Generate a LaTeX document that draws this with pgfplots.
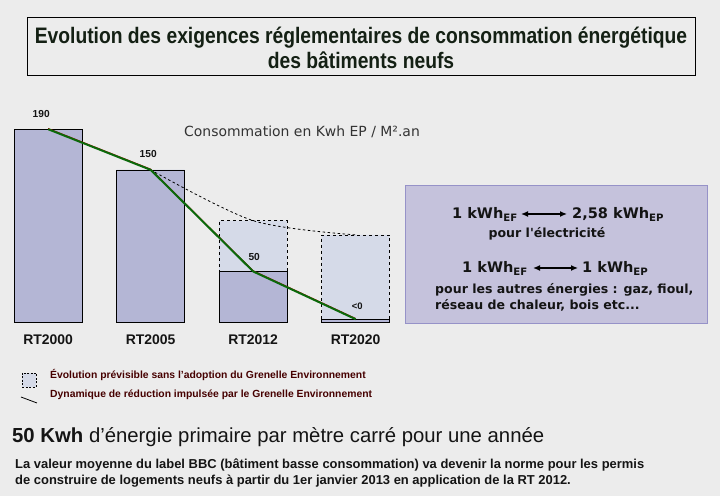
\documentclass[border=0pt]{standalone}
\usepackage{pgfplots}
\pgfplotsset{compat=1.18}
\usetikzlibrary{arrows.meta}
\usepackage{fontspec}
\setmainfont{Liberation Sans}
\newfontfamily\narrow[FakeStretch=0.86]{Liberation Sans}
\newfontfamily\dejavu{DejaVu Sans}
\definecolor{bg}{RGB}{236,236,236}
\definecolor{barfill}{RGB}{180,182,213}
\definecolor{lightbar}{RGB}{213,218,232}
\definecolor{boxfill}{RGB}{197,194,220}
\definecolor{boxborder}{RGB}{150,146,200}
\definecolor{grline}{RGB}{10,105,10}
\definecolor{legtext}{RGB}{70,0,0}
\definecolor{txt}{RGB}{20,20,20}
\definecolor{titletxt}{RGB}{20,32,20}
\begin{document}
\begin{tikzpicture}[x=1bp,y=1bp]
\fill[bg] (0,0) rectangle (720,496);
% title
\draw[black, line width=1bp] (27,478) rectangle (695,420);
\node[font=\narrow\bfseries\fontsize{22.5}{25}\selectfont, align=center, text=titletxt] at (361,448)
  {Evolution des exigences réglementaires de consommation énergétique\\des bâtiments neufs};
% chart
\begin{axis}[at={(7,171)}, anchor=south west, scale only axis,
  width=389.5bp, height=203.2bp,
  xmin=-0.4, xmax=3.4, ymin=0, ymax=200, clip=false,
  axis line style={draw=none}, ytick=\empty,
  xtick={0,1,2,3}, xticklabels={RT2000,RT2005,RT2012,RT2020},
  major tick length=0pt,
  xticklabel style={font=\bfseries\fontsize{14}{14}\selectfont, text=txt, yshift=-9bp}]
\addplot[ybar, bar width=68bp, bar shift=0pt, draw=black, dashed, fill=lightbar]
  coordinates {(2,100) (3,86)};
\addplot[ybar, bar width=68bp, bar shift=0pt, draw=black, fill=barfill]
  coordinates {(0,190) (1,150) (2,50) (3,3)};
\addplot[black, line width=0.8bp, smooth, dash pattern=on 2.5bp off 2.5bp]
  coordinates {(1,150) (2,100) (3,86)};
\addplot[red!70!black, line width=0.8bp, yshift=0.8bp]
  coordinates {(0,190) (1,150) (2,50) (3,3)};
\addplot[grline, line width=2bp]
  coordinates {(0,190) (1,150) (2,50) (3,3)};
\node[font=\bfseries\fontsize{10.2}{11}\selectfont, text=txt] at (axis cs:-0.068,204.5) {190};
\node[font=\bfseries\fontsize{10.2}{11}\selectfont, text=txt] at (axis cs:0.976,165.4) {150};
\node[font=\bfseries\fontsize{10.2}{11}\selectfont, text=txt] at (axis cs:2.01,64) {50};
\node[font=\bfseries\fontsize{9.5}{11}\selectfont, text=txt] at (axis cs:3.015,15.7) {<0};
\end{axis}
\node[font=\dejavu\fontsize{14}{14}\selectfont, text=black!80] at (302,364) {Consommation en Kwh EP / M².an};
% info box
\draw[draw=boxborder, line width=1bp, fill=boxfill] (405,310) rectangle (707,172);
\begin{scope}[every node/.style={font=\dejavu\bfseries\fontsize{14.6}{15}\selectfont, text=txt, inner sep=0pt}]
\node[anchor=base east] at (518,277) {1 kWh\textsubscript{EF}};
\node[anchor=base west] at (572,277) {2,58 kWh\textsubscript{EP}};
\node[anchor=base east] at (528,223) {1 kWh\textsubscript{EF}};
\node[anchor=base west] at (582,223) {1 kWh\textsubscript{EP}};
\end{scope}
\draw[{Latex[length=7bp,width=6bp]}-{Latex[length=7bp,width=6bp]}, line width=1.3bp] (521,282) -- (567,282);
\draw[{Latex[length=7bp,width=6bp]}-{Latex[length=7bp,width=6bp]}, line width=1.3bp] (533,228) -- (578,228);
\begin{scope}[every node/.style={font=\dejavu\bfseries\fontsize{12.6}{13}\selectfont, text=txt, inner sep=0pt}]
\node[anchor=base] at (547,258) {pour l'électricité};
\node[anchor=base west] at (435,202) {pour les autres énergies : gaz, fioul,};
\node[anchor=base west] at (435,186) {réseau de chaleur, bois etc...};
\end{scope}
% legend
\draw[black, dash pattern=on 2bp off 1.5bp, fill=lightbar, line width=0.8bp] (22,123) rectangle (36,109);
\draw[black, line width=0.8bp] (21,99) -- (37,93);
\begin{scope}[every node/.style={font=\bfseries\fontsize{10.4}{11}\selectfont, text=legtext, inner sep=0pt, anchor=west}]
\node at (50,121) {Évolution prévisible sans l'adoption du Grenelle Environnement};
\node at (50,101) {Dynamique de réduction impulsée par le Grenelle Environnement};
\end{scope}
% bottom text
\node[anchor=west, inner sep=0pt, font=\fontsize{20.4}{21}\selectfont, text=txt] at (12,59)
  {\textbf{50 Kwh} d'énergie primaire par mètre carré pour une année};
\node[anchor=north west, inner sep=0pt, align=left, font=\bfseries\fontsize{13}{16}\selectfont, text=txt] at (15,37)
  {La valeur moyenne du label BBC (bâtiment basse consommation) va devenir la norme pour les permis\\de construire de logements neufs à partir du 1er janvier 2013 en application de la RT 2012.};
\end{tikzpicture}
\end{document}
